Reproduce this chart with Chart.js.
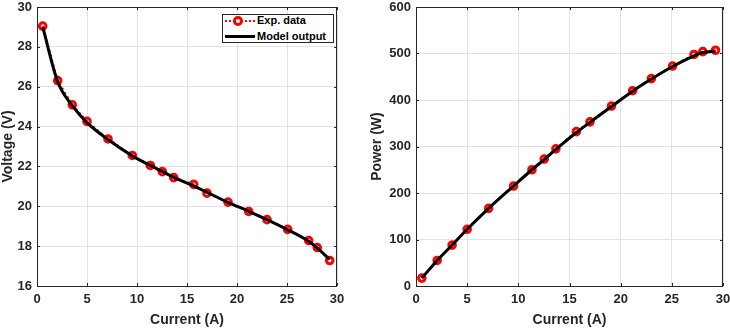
<!DOCTYPE html>
<html>
<head>
<meta charset="utf-8">
<script src="https://cdn.jsdelivr.net/npm/chart.js@4.4.1/dist/chart.umd.min.js"></script>
<style>
body { margin:0; background:#fff; }
#wrap { position:relative; width:730px; height:329px; overflow:hidden; }
.panel { position:absolute; top:0; width:365px; height:329px; }
#legend { position:absolute; left:222px; top:14px; width:112px; height:29px; box-sizing:border-box;
  border:1px solid #262626; background:#fff; font: bold 11px "Liberation Sans", Arial, sans-serif; color:#000; }
.label { position:absolute; left:34px; line-height:13px; white-space:nowrap; }
.dots { position:absolute; left:2px; width:30px; height:2.5px;
  background: repeating-linear-gradient(to right, #ff0000 0 2.5px, transparent 2.5px 4px); }
.ring { position:absolute; left:10px; width:3.5px; height:3.5px; border:3px solid #ff0000; border-radius:50%; background:#fff; }
.solid { position:absolute; left:2px; width:30px; height:3px; background:#000; }
</style>
</head>
<body>
<div id="wrap">
  <div class="panel" style="left:0">
    <canvas id="vChart" width="365" height="329"></canvas>
    <div id="legend">
      <div class="dots" style="top:4.5px"></div><div class="ring" style="top:1px"></div>
      <span class="label" style="top:-0.8px">Exp. data</span>
      <div class="solid" style="top:20.2px"></div>
      <span class="label" style="top:15.2px">Model output</span>
    </div>
  </div>
  <div class="panel" style="left:365px">
    <canvas id="pChart" width="365" height="329"></canvas>
  </div>
</div>
<script>
// values
const current      = [0.57, 2.07, 3.53, 5.0, 7.1, 9.53, 11.33, 12.53, 13.67, 15.67, 17.0, 19.1, 21.17, 23.0, 25.07, 27.17, 28.03, 29.27];
const voltageExp   = [29.04, 26.31, 25.09, 24.26, 23.38, 22.55, 22.05, 21.74, 21.44, 21.10, 20.66, 20.21, 19.74, 19.33, 18.84, 18.28, 17.93, 17.28];
const voltageModel = [29.00, 26.25, 25.05, 24.20, 23.35, 22.53, 22.05, 21.75, 21.45, 21.02, 20.70, 20.20, 19.75, 19.33, 18.82, 18.24, 17.90, 17.33];
const powerExp     = [17, 55, 88, 122, 167, 215, 250, 273, 295, 332, 353, 387, 420, 446, 473, 498, 504, 507];
const powerModel   = [17, 55, 88, 122, 167, 215, 250, 272, 294, 330, 352, 386, 419, 445, 472, 495, 502, 505];

const FONT = "'Liberation Sans', Arial, Helvetica, sans-serif";
const AXIS = "#262626";

const pts = (ys) => current.map((x, i) => ({ x: x, y: ys[i] }));

/* box round the plot area + inward tick marks */
const framePlugin = {
    id: "frame",
    afterDraw(chart) {
        const { ctx, chartArea: a, scales } = chart;
        ctx.save();
        ctx.strokeStyle = AXIS;
        ctx.lineWidth = 1;
        ctx.beginPath();
        scales.x.ticks.forEach(t => {
            const px = Math.round(scales.x.getPixelForValue(t.value)) + 0.5;
            ctx.moveTo(px, a.bottom); ctx.lineTo(px, a.bottom - 3);
            ctx.moveTo(px, a.top); ctx.lineTo(px, a.top + 3);
        });
        scales.y.ticks.forEach(t => {
            const py = Math.round(scales.y.getPixelForValue(t.value)) + 0.5;
            ctx.moveTo(a.left, py); ctx.lineTo(a.left + 3, py);
            ctx.moveTo(a.right, py); ctx.lineTo(a.right - 3, py);
        });
        ctx.stroke();
        ctx.strokeRect(Math.round(a.left) + 0.5, Math.round(a.top) + 0.5,
            Math.round(a.right - a.left) - 1, Math.round(a.bottom - a.top));
        ctx.restore();
    }
};

function makeChart(id, yTitle, yMin, yMax, yStep, expVals, modelVals, yWidth, yTitlePad, padRight) {
    return new Chart(document.getElementById(id), {
        type: "line",
        data: {
            datasets: [{
                label: "Exp. data",
                data: pts(expVals),
                borderColor: "#ff0000",
                borderWidth: 2,
                borderDash: [2, 3],
                pointRadius: 3.3,
                pointBorderWidth: 3,
                pointBorderColor: "#ff0000",
                pointBackgroundColor: "rgba(255,255,255,0)",
                order: 2
            }, {
                label: "Model output",
                data: pts(modelVals),
                borderColor: "#000000",
                borderWidth: 3,
                pointRadius: 0,
                cubicInterpolationMode: "monotone",
                order: 1
            }]
        },
        options: {
            responsive: false,
            animation: false,
            layout: { padding: { top: 5, right: padRight, left: 0, bottom: 0 } },
            plugins: { legend: { display: false }, tooltip: { enabled: false } },
            scales: {
                x: {
                    type: "linear", min: 0, max: 30,
                    ticks: { stepSize: 5, padding: 6, color: AXIS, font: { family: FONT, size: 13, weight: "bold" } },
                    grid: { color: "#e2e2e2", drawTicks: false },
                    border: { display: false },
                    title: { display: true, text: "Current (A)", color: AXIS, padding: { top: 0, bottom: 0 },
                        font: { family: FONT, size: 14, weight: "bold" } },
                    afterFit(s) { s.height = 43; s.paddingLeft = 0; s.paddingRight = 0; }
                },
                y: {
                    min: yMin, max: yMax,
                    ticks: { stepSize: yStep, padding: 5, color: AXIS, font: { family: FONT, size: 13, weight: "bold" } },
                    grid: { color: "#e2e2e2", drawTicks: false },
                    border: { display: false },
                    title: { display: true, text: yTitle, color: AXIS, padding: { top: yTitlePad, bottom: 0 },
                        font: { family: FONT, size: 14, weight: "bold" } },
                    afterFit(s) { s.width = yWidth; s.paddingTop = 0; s.paddingBottom = 0; }
                }
            }
        },
        plugins: [framePlugin]
    });
}

makeChart("vChart", "Voltage (V)", 16, 30, 2, voltageExp, voltageModel, 37, 0, 28);
makeChart("pChart", "Power (W)", 0, 600, 100, powerExp, powerModel, 51, 4, 7);
</script>
</body>
</html>
